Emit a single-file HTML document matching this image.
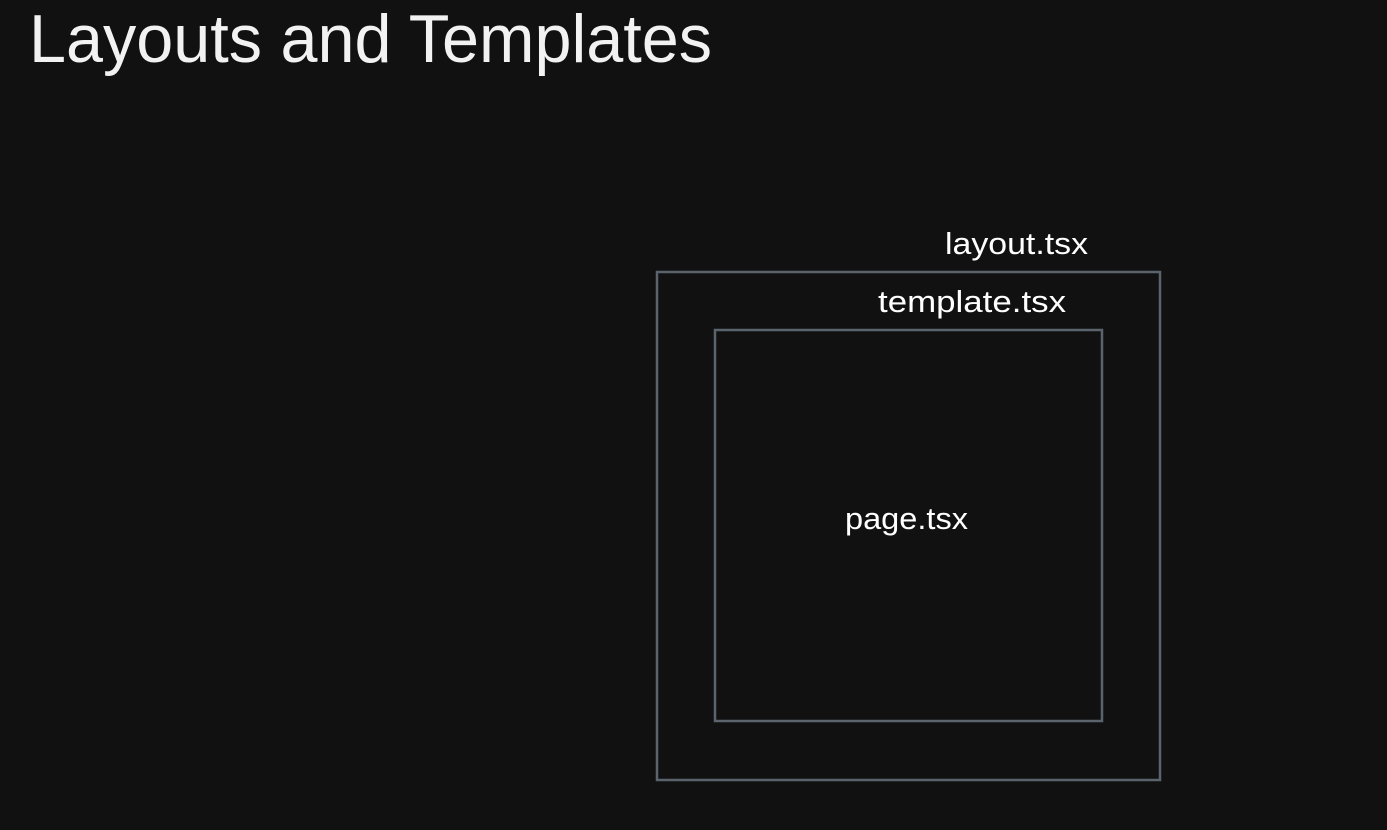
<!DOCTYPE html>
<html><head><style>
html,body{margin:0;padding:0;background:#111112;width:1387px;height:830px;overflow:hidden}
svg{display:block}
</style></head><body>
<svg width="1387" height="830" xmlns="http://www.w3.org/2000/svg">
<rect width="1387" height="830" fill="#111112"/>
<text x="29" y="62" font-family="Liberation Sans, sans-serif" font-size="68" fill="#f2f2f2" textLength="683" lengthAdjust="spacingAndGlyphs">Layouts and Templates</text>
<rect x="657" y="272" width="503" height="508" fill="none" stroke="#5b646c" stroke-width="2.5"/>
<rect x="715" y="330" width="387" height="391" fill="none" stroke="#5b646c" stroke-width="2.5"/>
<text x="945" y="254" font-family="Liberation Sans, sans-serif" font-size="31" fill="#ffffff" textLength="143" lengthAdjust="spacingAndGlyphs">layout.tsx</text>
<text x="878" y="312" font-family="Liberation Sans, sans-serif" font-size="31" fill="#ffffff" textLength="188" lengthAdjust="spacingAndGlyphs">template.tsx</text>
<text x="845" y="529" font-family="Liberation Sans, sans-serif" font-size="31" fill="#ffffff" textLength="123" lengthAdjust="spacingAndGlyphs">page.tsx</text>
</svg>
</body></html>
